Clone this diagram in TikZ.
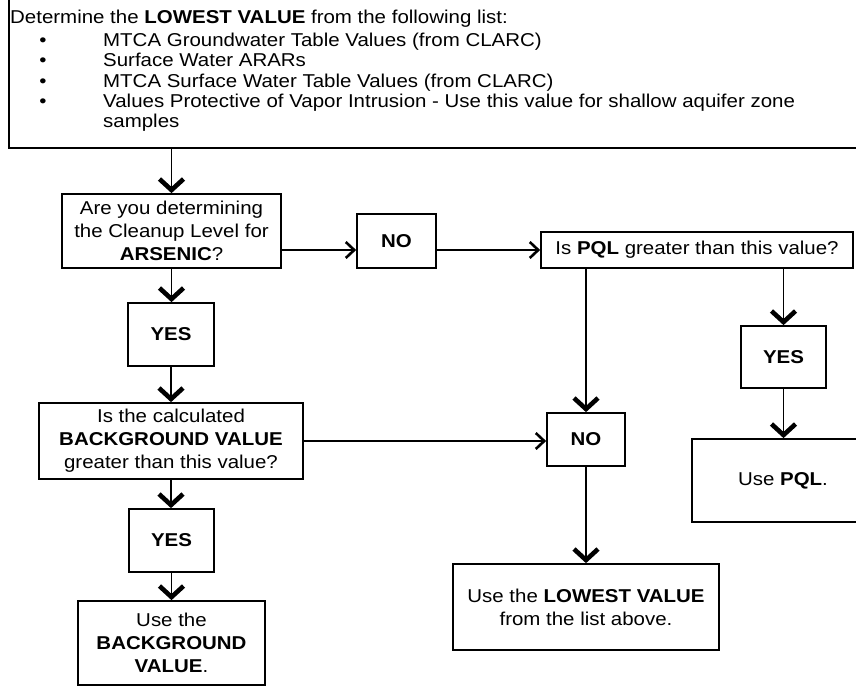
\documentclass[tikz,border=0pt]{standalone}
\usepackage{fontspec}
\setmainfont{Liberation Sans}[FakeStretch=1.1]
\usetikzlibrary{arrows.meta}

\begin{document}
\begin{tikzpicture}[x=1pt, y=-1pt,
  txt/.style={font=\fontsize{18.6}{23}\selectfont, inner sep=0pt},
  box/.style={txt, draw, line width=1.7pt, align=center},
  conn/.style={line width=1.5pt},
  vtip/.style={conn, -{Straight Barb[length=11pt, width=24pt, line width=4.6pt]}},
  htip/.style={conn, -{Straight Barb[length=8.5pt, width=16pt, line width=2.6pt]}}]

\useasboundingbox (0,0) rectangle (856,687);

% outer box holding the list of values
\node[box, minimum width=891pt, minimum height=158pt] (topbox) at (454.5,69) {};
\node[txt, anchor=base west] (title) at (10,24)
  {Determine the \textbf{LOWEST VALUE} from the following list:};
\foreach \yy/\nm in {47/b1, 67/b2, 88/b3, 108/b4}
  \node[txt, anchor=base] (\nm) at (43,\yy) {•};
\node[txt, anchor=base west] (i1) at (103,47) {MTCA Groundwater Table Values (from CLARC)};
\node[txt, anchor=base west] (i2) at (103,67) {Surface Water ARARs};
\node[txt, anchor=base west] (i3) at (103,88) {MTCA Surface Water Table Values (from CLARC)};
\node[txt, anchor=base west] (i4) at (103,108) {Values Protective of Vapor Intrusion - Use this value for shallow aquifer zone};
\node[txt, anchor=base west] (i5) at (103,128) {samples};

% decision boxes
\node[box, minimum width=219pt, minimum height=74pt] (q1) at (171.5,231)
  {Are you determining\\the Cleanup Level for\\\textbf{ARSENIC}?};
\node[box, minimum width=79pt, minimum height=54pt] (no1) at (396.5,241) {\textbf{NO}};
\node[box, minimum width=312pt, minimum height=36pt] (pql) at (697,250)
  {Is \textbf{PQL} greater than this value?};
\node[box, minimum width=86pt, minimum height=63pt] (yes1) at (171,334.5) {\textbf{YES}};
\node[box, minimum width=264pt, minimum height=76pt] (bg) at (171,441)
  {Is the calculated\\\textbf{BACKGROUND VALUE}\\greater than this value?};
\node[box, minimum width=78pt, minimum height=53pt] (no2) at (586,439.5) {\textbf{NO}};
\node[box, minimum width=85pt, minimum height=62pt] (yes3) at (783.5,357) {\textbf{YES}};
\node[box, minimum width=182pt, minimum height=83pt] (usepql) at (783,480.5) {Use \textbf{PQL}.};
\node[box, minimum width=85pt, minimum height=63pt] (yes2) at (171.5,540.5) {\textbf{YES}};
\node[box, minimum width=187pt, minimum height=84pt] (usebg) at (171.5,643)
  {Use the\\\textbf{BACKGROUND}\\\textbf{VALUE}.};
\node[box, minimum width=266pt, minimum height=86pt] (lowest) at (586,607)
  {Use the \textbf{LOWEST VALUE}\\from the list above.};

% connectors
\draw[vtip] (q1.north |- topbox.south) -- (q1.north);
\draw[htip] (q1.east |- pql.west) -- (no1.west |- pql.west);
\draw[htip] (no1.east |- pql.west) -- (pql.west);
\draw[vtip] (no2.north |- pql.south) -- (no2.north);
\draw[vtip] (yes3.north |- pql.south) -- (yes3.north);
\draw[vtip] (yes3.south) -- (usepql.north -| yes3.south);
\draw[vtip] (q1.south) -- (yes1.north -| q1.south);
\draw[vtip] (yes1.south) -- (bg.north -| yes1.south);
\draw[htip] (bg.east) -- (bg.east -| no2.west);
\draw[vtip] (bg.south) -- (yes2.north -| bg.south);
\draw[vtip] (yes2.south) -- (usebg.north -| yes2.south);
\draw[vtip] (no2.south) -- (lowest.north);
\end{tikzpicture}
\end{document}
